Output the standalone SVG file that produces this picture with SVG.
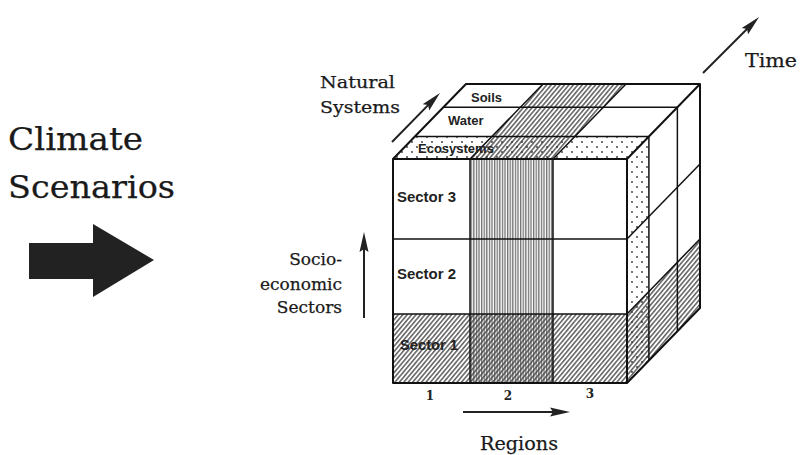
<svg xmlns="http://www.w3.org/2000/svg" width="802" height="455" viewBox="0 0 802 455">
<defs>
<style>
.serif{font-family:"DejaVu Serif","Liberation Serif",serif;fill:#1a1a1a;stroke:#1a1a1a;stroke-width:0.25}
.lbl{font-family:"Liberation Sans","DejaVu Sans",sans-serif;font-weight:bold;fill:#222}
.num{font-family:"DejaVu Serif","Liberation Serif",serif;font-weight:bold;fill:#222}
.edge{fill:none;stroke:#111;stroke-width:2;stroke-linejoin:round}
.grid{fill:none;stroke:#111;stroke-width:1.5}
.conn{fill:none;stroke:#222;stroke-width:2}
</style>
<pattern id="diag" width="3.4" height="3.4" patternUnits="userSpaceOnUse" patternTransform="rotate(40)">
<rect width="3.4" height="3.4" fill="#fff"/>
<line x1="0.8" y1="0" x2="0.8" y2="3.4" stroke="#333" stroke-width="1.2"/>
</pattern>
<pattern id="vert" width="2.6" height="4" patternUnits="userSpaceOnUse">
<line x1="0.7" y1="0" x2="0.7" y2="4" stroke="#444" stroke-width="1"/>
</pattern>
<pattern id="dots" width="10" height="10" patternUnits="userSpaceOnUse">
<circle cx="2" cy="2" r="0.9" fill="#333"/>
<circle cx="7" cy="7" r="0.9" fill="#333"/>
</pattern>
<marker id="ah" viewBox="0 0 20 10" refX="10" refY="5" markerWidth="20" markerHeight="10" markerUnits="userSpaceOnUse" orient="auto">
<path d="M0,0.5 L20,5 L0,9.5 L3,5 z" fill="#222"/>
</marker>
</defs>
<rect width="802" height="455" fill="#fff"/>

<g id="climate-scenarios">
<text class="serif" x="8" y="150" font-size="32" textLength="135" lengthAdjust="spacingAndGlyphs">Climate</text>
<text class="serif" x="8" y="198" font-size="32" textLength="167" lengthAdjust="spacingAndGlyphs">Scenarios</text>
<polygon points="29,243 93,243 93,224 154,260 93,297 93,279 29,279" fill="#222"/>
</g>

<g id="cube">
<g id="top-face">
<polygon points="393,159 470,159 491.9,136.5 414.9,136.5" fill="#fff"/>
<polygon points="393,159 470,159 491.9,136.5 414.9,136.5" fill="url(#dots)"/>
<polygon points="470,159 553,159 574.9,136.5 491.9,136.5" fill="url(#diag)"/>
<polygon points="470,159 553,159 574.9,136.5 491.9,136.5" fill="url(#dots)"/>
<polygon points="553,159 627,159 648.9,136.5 574.9,136.5" fill="#fff"/>
<polygon points="553,159 627,159 648.9,136.5 574.9,136.5" fill="url(#dots)"/>
<polygon points="491.9,136.5 574.9,136.5 603.37,107.25 520.37,107.25" fill="url(#diag)"/>
<polygon points="520.37,107.25 603.37,107.25 626,84 543,84" fill="url(#diag)"/>
<line class="grid" x1="414.9" y1="136.5" x2="648.9" y2="136.5"/>
<line class="grid" x1="443.37" y1="107.25" x2="677.37" y2="107.25"/>
<line class="grid" x1="470" y1="159" x2="543" y2="84"/>
<line class="grid" x1="553" y1="159" x2="626" y2="84"/>
<text class="lbl" x="471" y="102" font-size="13">Soils</text>
<text class="lbl" x="448" y="125" font-size="13">Water</text>
<text class="lbl" x="418" y="153" font-size="13">Ecosystems</text>
</g>
<g id="front-face">
<rect x="470" y="159" width="83" height="155" fill="url(#vert)"/>
<rect x="393" y="314" width="234" height="69" fill="url(#diag)"/>
<rect x="470" y="314" width="83" height="69" fill="url(#vert)"/>
<line class="grid" x1="470" y1="159" x2="470" y2="383" stroke-width="2.2"/>
<line class="grid" x1="553" y1="159" x2="553" y2="383"/>
<line class="grid" x1="393" y1="239" x2="627" y2="239"/>
<line class="grid" x1="393" y1="314" x2="627" y2="314"/>
<text class="lbl" x="397" y="202" font-size="14" textLength="59" lengthAdjust="spacingAndGlyphs">Sector 3</text>
<text class="lbl" x="397" y="279" font-size="14" textLength="59" lengthAdjust="spacingAndGlyphs">Sector 2</text>
<text class="lbl" x="400" y="350" font-size="14" textLength="58" lengthAdjust="spacingAndGlyphs" fill="#333">Sector 1</text>
</g>
<g id="right-face">
<polygon points="627,159 648.9,136.5 648.9,291.5 627,314" fill="url(#dots)"/>
<polygon points="627,314 700,239 700,308 627,383" fill="url(#diag)"/>
<polygon points="627,314 648.9,291.5 648.9,360.5 627,383" fill="url(#dots)"/>
<line class="grid" x1="648.9" y1="136.5" x2="648.9" y2="360.5"/>
<line class="grid" x1="677.37" y1="107.25" x2="677.37" y2="331.25"/>
<line class="grid" x1="627" y1="239" x2="700" y2="164"/>
<line class="grid" x1="627" y1="314" x2="700" y2="239"/>
</g>
<g id="cube-outline">
<path class="edge" d="M393,159 L466,84 L700,84 L700,308 L627,383 L393,383 Z"/>
<path class="edge" d="M393,159 L627,159 L700,84 M627,159 L627,383"/>
</g>
</g>

<g id="axis-labels">
<text class="serif" x="320" y="88" font-size="17" textLength="75" lengthAdjust="spacingAndGlyphs">Natural</text>
<text class="serif" x="320" y="113" font-size="17" textLength="80" lengthAdjust="spacingAndGlyphs">Systems</text>
<text class="serif" x="342" y="265" font-size="17" text-anchor="end">Socio-</text>
<text class="serif" x="342" y="290" font-size="17" text-anchor="end">economic</text>
<text class="serif" x="342" y="313" font-size="17" text-anchor="end">Sectors</text>
<text class="serif" x="745" y="67" font-size="18" textLength="52" lengthAdjust="spacingAndGlyphs">Time</text>
<text class="serif" x="480" y="450" font-size="19" textLength="78" lengthAdjust="spacingAndGlyphs">Regions</text>
<text class="num" x="430" y="400" font-size="12" text-anchor="middle">1</text>
<text class="num" x="508" y="400" font-size="12" text-anchor="middle">2</text>
<text class="num" x="590" y="398" font-size="12" text-anchor="middle">3</text>
</g>

<g id="connectors">
<line class="conn" x1="392" y1="142" x2="433" y2="100.1" marker-end="url(#ah)"/>
<line class="conn" x1="364" y1="318" x2="364" y2="242" marker-end="url(#ah)"/>
<line class="conn" x1="703" y1="73" x2="752" y2="24" marker-end="url(#ah)"/>
<line class="conn" x1="463" y1="412" x2="560" y2="412" marker-end="url(#ah)"/>
</g>
</svg>
